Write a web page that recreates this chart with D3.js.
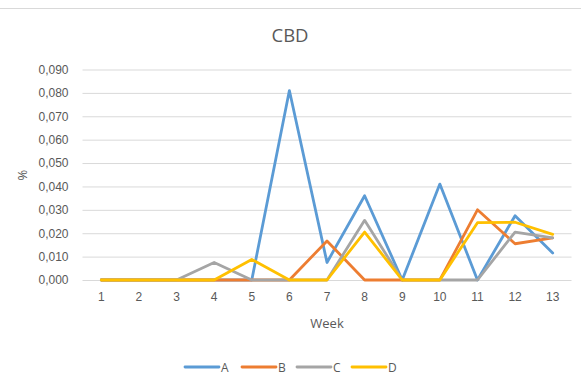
<!DOCTYPE html>
<html>
<head>
<meta charset="utf-8">
<script src="https://cdn.jsdelivr.net/npm/d3@7"></script>
<style>
  html, body { margin: 0; padding: 0; background: #fff; }
  svg { display: block; font-family: "Open Sans", "Noto Sans", sans-serif; }
</style>
</head>
<body>
<svg id="chart" width="581" height="383"></svg>
<script>
// CBD share (%) per week for four samples
const weeks = [1, 2, 3, 4, 5, 6, 7, 8, 9, 10, 11, 12, 13];
const seriesA = [0, 0, 0, 0, 0, 0.081, 0.0075, 0.036, 0, 0.041, 0, 0.0275, 0.0115];
const seriesB = [0, 0, 0, 0, 0, 0, 0.0167, 0, 0, 0, 0.030, 0.0155, 0.018];
const seriesC = [0, 0, 0, 0.0075, 0, 0, 0, 0.0255, 0, 0, 0, 0.0205, 0.018];
const seriesD = [0, 0, 0, 0, 0.0088, 0, 0, 0.0205, 0, 0, 0.0245, 0.0247, 0.0195];
const seriesNames = ["A", "B", "C", "D"];
const seriesColors = ["#5B9BD5", "#ED7D31", "#A5A5A5", "#FFC000"];
const yTicks = [0, 0.01, 0.02, 0.03, 0.04, 0.05, 0.06, 0.07, 0.08, 0.09];

const allSeries = [seriesA, seriesB, seriesC, seriesD].map((vals, i) => ({
  name: seriesNames[i], color: seriesColors[i], values: vals
}));

const svg = d3.select("#chart");
const textColor = "#595959";
const grid = "#D9D9D9";

// frame edge along the top
svg.append("line")
  .attr("x1", 0).attr("x2", 581).attr("y1", 8.5).attr("y2", 8.5)
  .attr("stroke", grid).attr("stroke-width", 1);

const plot = { left: 82.5, right: 571.5, top: 69.5, bottom: 280 };

const x = d3.scaleBand().domain(weeks).range([plot.left, plot.right]);
const y = d3.scaleLinear().domain([0, 0.09]).range([plot.bottom, plot.top]);
const fmt = v => d3.format(".3f")(v).replace(".", ",");

// horizontal gridlines and y labels
const yAxis = d3.axisLeft(y).tickValues(yTicks).tickFormat(fmt)
  .tickSize(-(plot.right - plot.left)).tickPadding(14);
const gy = svg.append("g").attr("transform", `translate(${plot.left},0)`).call(yAxis);
gy.select(".domain").remove();
gy.selectAll(".tick line").attr("stroke", grid).attr("stroke-width", 1);
gy.selectAll(".tick text").attr("fill", textColor).attr("font-size", 12);

// week labels
const xAxis = d3.axisBottom(x).tickSize(0).tickPadding(12);
const gx = svg.append("g").attr("transform", `translate(0,${plot.bottom})`).call(xAxis);
gx.select(".domain").remove();
gx.selectAll(".tick text").attr("fill", textColor).attr("font-size", 12);

// series lines
const line = d3.line()
  .x((d, i) => x(weeks[i]) + x.bandwidth() / 2)
  .y(d => y(d));
svg.append("g").selectAll("path").data(allSeries).join("path")
  .attr("d", d => line(d.values))
  .attr("fill", "none")
  .attr("stroke", d => d.color)
  .attr("stroke-width", 2.8)
  .attr("stroke-linejoin", "round")
  .attr("stroke-linecap", "round");

// title and axis titles
svg.append("text").attr("x", 290).attr("y", 42).attr("text-anchor", "middle")
  .attr("fill", textColor).attr("font-size", 18.5).text("CBD");
svg.append("text").attr("transform", "translate(22,175) rotate(-90)")
  .attr("text-anchor", "middle").attr("dominant-baseline", "central")
  .attr("fill", textColor).attr("font-size", 13).text("%");
svg.append("text").attr("x", 327).attr("y", 328).attr("text-anchor", "middle")
  .attr("fill", textColor).attr("font-size", 13).text("Week");

// legend
const legendX = [185, 242, 297, 352];
const lg = svg.append("g").selectAll("g").data(allSeries).join("g")
  .attr("transform", (d, i) => `translate(${legendX[i]},367)`);
lg.append("line").attr("x1", 0).attr("x2", 34).attr("y1", 0).attr("y2", 0)
  .attr("stroke", d => d.color).attr("stroke-width", 2.8).attr("stroke-linecap", "round");
lg.append("text").attr("x", 36).attr("y", 0).attr("dominant-baseline", "central")
  .attr("fill", textColor).attr("font-size", 12).text(d => d.name);
</script>
</body>
</html>
